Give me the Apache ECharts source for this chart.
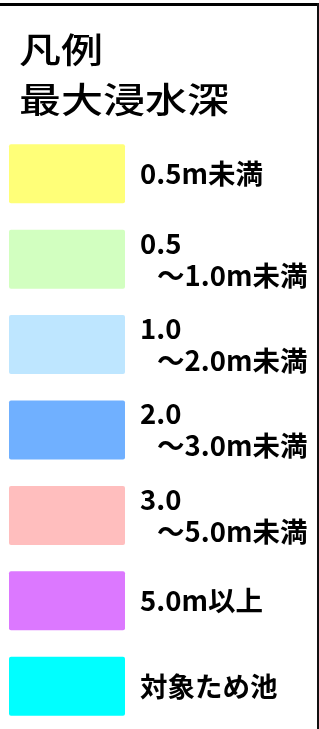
<!DOCTYPE html>
<html>
<head>
<meta charset="utf-8">
<script src="https://cdn.jsdelivr.net/npm/echarts@6/dist/echarts.min.js"></script>
<style>
html, body { margin: 0; padding: 0; background: #fff; }
#main { width: 319px; height: 729px; }
</style>
</head>
<body>
<div id="main"></div>
<script>
// legend of max inundation depth
var titleLines = ['凡例', '最大浸水深'];
var categories = ['0.5m未満', '0.5\n〜1.0m未満', '1.0\n〜2.0m未満', '2.0\n〜3.0m未満', '3.0\n〜5.0m未満', '5.0m以上', '対象ため池'];
var values = [1, 1, 1, 1, 1, 1, 1];
var colors = ['#ffff78', '#d2ffc0', '#bee6ff', '#70b0ff', '#ffbebe', '#dc78ff', '#00ffff'];

var FONT = '"Noto Sans CJK JP", "Noto Sans", sans-serif';

var chart = echarts.init(document.getElementById('main'));

var items = [];
for (var i = 0; i < values.length; i++) {
  items.push({ name: categories[i], value: values[i], itemStyle: { color: colors[i] } });
}

function labelText(p) {
  var parts = p.name.split('\n');
  if (parts.length === 1) return '{a|' + parts[0] + '}';
  return '{a|' + parts[0] + '}\n{b|' + parts[1] + '}';
}

var option = {
  backgroundColor: '#fff',
  animation: false,
  grid: { left: 9, top: 131, width: 116, height: 604 },
  xAxis: { type: 'value', min: 0, max: 1, show: false },
  yAxis: { type: 'category', data: categories, inverse: true, show: false },
  graphic: [
    { type: 'rect', shape: { x: 0, y: 3, width: 319, height: 3 }, style: { fill: '#000' } },
    { type: 'rect', shape: { x: 317, y: 3, width: 2, height: 726 }, style: { fill: '#111' } },
    {
      type: 'text', left: 19, top: 25, scaleX: 1.2,
      style: { text: titleLines.join('\n'), font: '500 35px ' + FONT, lineHeight: 50, fill: '#000' }
    }
  ],
  series: [{
    type: 'bar',
    data: items,
    barWidth: 59,
    itemStyle: { borderRadius: 2 },
    label: {
      show: true,
      position: 'right',
      distance: 15,
      formatter: labelText,
      rich: {
        a: { fontFamily: FONT, fontWeight: 'bold', fontSize: 27.5, lineHeight: 32, color: '#000' },
        b: { fontFamily: FONT, fontWeight: 'bold', fontSize: 27.5, lineHeight: 32, color: '#000', padding: [0, 0, 0, 17] }
      }
    }
  }]
};

chart.setOption(option);
</script>
</body>
</html>
